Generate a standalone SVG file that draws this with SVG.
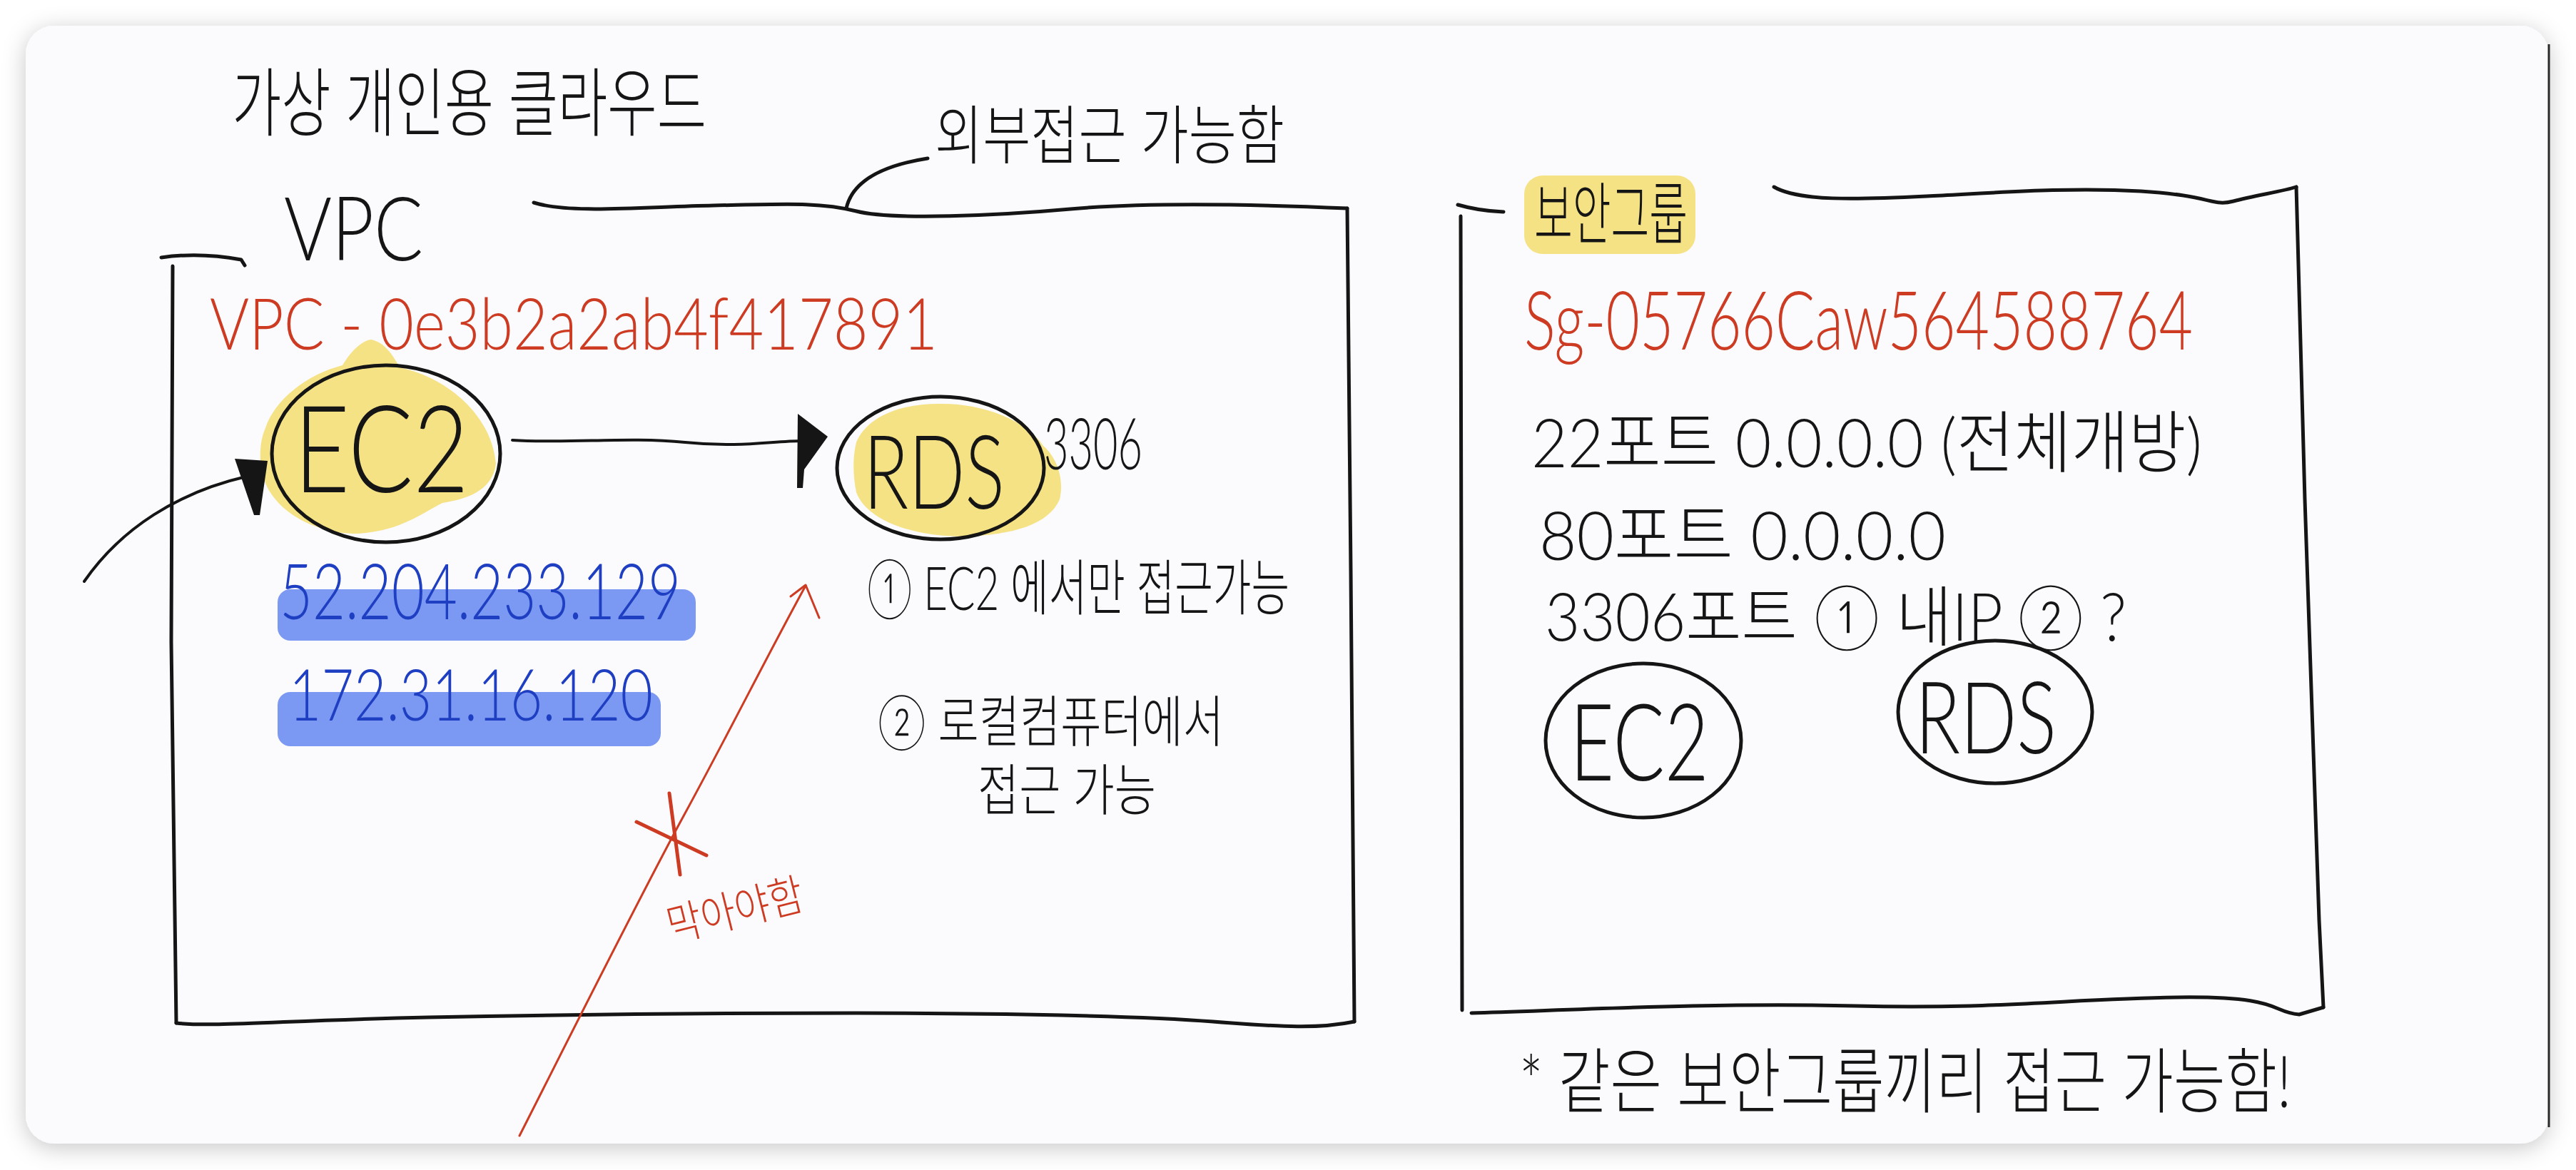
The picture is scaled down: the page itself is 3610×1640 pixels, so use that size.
<svg xmlns="http://www.w3.org/2000/svg" width="3610" height="1640" viewBox="0 0 3610 1640">
<defs>
<filter id="shadow" x="-5%" y="-5%" width="110%" height="110%">
<feDropShadow dx="0" dy="6" stdDeviation="16" flood-color="#000" flood-opacity="0.22"/>
</filter>
<style>
.hand{font-family:"Lato","Liberation Sans","Noto Sans CJK KR",sans-serif;font-weight:300;}
.blk{fill:#151515;}
.red{fill:#cc3b22;}
.blue{fill:#1f3fc2;}
.ln{fill:none;stroke:#151515;stroke-width:5;stroke-linecap:round;stroke-linejoin:round;}
.rln{fill:none;stroke:#cc3b22;stroke-width:3;stroke-linecap:round;stroke-linejoin:round;}
.yel{fill:#f4e07a;opacity:0.92;}
.bhl{fill:#7b98f2;}
</style>
</defs>
<rect x="0" y="0" width="3610" height="1640" fill="#ffffff"/>
<rect x="36" y="36" width="3536" height="1567" rx="40" fill="#fbfafd" filter="url(#shadow)"/>
<line x1="3572" y1="62" x2="3572" y2="1580" stroke="#2a2a2a" stroke-width="3"/>

<g id="title">
<text class="hand blk" x="325" y="182" font-size="105" textLength="665" lengthAdjust="spacingAndGlyphs">가상 개인용 클라우드</text>
</g>
<g id="external-note">
<text class="hand blk" x="1310" y="222" font-size="90" textLength="490" lengthAdjust="spacingAndGlyphs">외부접근 가능함</text>
</g>

<g id="vpc">
<path class="ln" d="M226,361 C 260,356 300,357 338,364 L 343,372"/>
<path class="ln" d="M242,373 L 240,900 L 247,1434"/>
<path class="ln" d="M748,284 C 800,300 900,290 1000,288 S 1150,283 1200,296 S 1400,302 1500,293 S 1750,286 1888,292"/>
<path class="ln" d="M1888,292 L 1893,800 L 1898,1432"/>
<path class="ln" d="M247,1434 C 300,1440 400,1430 600,1426 S 1000,1420 1200,1420 S 1600,1424 1700,1432 S 1850,1442 1898,1432"/>
<text class="hand blk" x="398" y="365" font-size="125" textLength="195" lengthAdjust="spacingAndGlyphs">VPC</text>
<text class="hand red" x="294" y="490" font-size="100" textLength="1020" lengthAdjust="spacingAndGlyphs">VPC - 0e3b2a2ab4f417891</text>
</g>

<g id="ec2">
<path class="yel" d="M372,600 C 385,560 430,525 480,512 C 490,495 505,478 520,476 C 540,480 552,500 560,515 C 630,530 690,585 695,650 C 690,690 650,700 620,705 C 590,720 560,745 500,748 C 440,748 380,715 368,665 C 362,640 365,615 372,600 Z"/>
<ellipse class="ln" cx="541" cy="636" rx="160" ry="124"/>
<text class="hand blk" x="412" y="690" font-size="170" textLength="245" lengthAdjust="spacingAndGlyphs">EC2</text>
</g>

<g id="rds">
<path class="yel" d="M1200,620 C 1215,585 1260,565 1320,566 C 1380,566 1440,590 1462,625 C 1480,640 1492,670 1485,700 C 1470,735 1420,750 1350,752 C 1280,752 1215,730 1200,690 C 1195,665 1195,640 1200,620 Z"/>
<ellipse class="ln" cx="1318" cy="656" rx="145" ry="100"/>
<text class="hand blk" x="1210" y="713" font-size="145" textLength="198" lengthAdjust="spacingAndGlyphs">RDS</text>
<text class="hand blk" x="1463" y="658" font-size="100" textLength="138" lengthAdjust="spacingAndGlyphs">3306</text>
</g>

<g id="ips">
<rect class="bhl" x="389" y="826" width="586" height="72" rx="18"/>
<rect class="bhl" x="389" y="970" width="537" height="76" rx="18"/>
<text class="hand blue" x="392" y="868" font-size="108" textLength="562" lengthAdjust="spacingAndGlyphs">52.204.233.129</text>
<text class="hand blue" x="405" y="1010" font-size="100" textLength="510" lengthAdjust="spacingAndGlyphs">172.31.16.120</text>
</g>

<g id="rds-notes">
<text class="hand blk" x="1215" y="855" font-size="85" textLength="592" lengthAdjust="spacingAndGlyphs">① EC2 에서만 접근가능</text>
<text class="hand blk" x="1230" y="1040" font-size="78" textLength="485" lengthAdjust="spacingAndGlyphs">② 로컬컴퓨터에서</text>
<text class="hand blk" x="1370" y="1136" font-size="78" textLength="250" lengthAdjust="spacingAndGlyphs">접근 가능</text>
</g>

<g id="block-note">
<path class="rln" d="M892,1152 L 990,1199 M 938,1112 L 953,1226" style="stroke-width:5"/>
<text class="hand red" x="930" y="1298" font-size="62" textLength="195" lengthAdjust="spacingAndGlyphs" transform="rotate(-14 1028 1265)">막아야함</text>
</g>

<g id="security-group">
<rect class="yel" x="2136" y="246" width="240" height="110" rx="26"/>
<text class="hand blk" x="2150" y="335" font-size="95" textLength="215" lengthAdjust="spacingAndGlyphs">보안그룹</text>
<path class="ln" d="M2043,287 C 2060,292 2080,296 2107,297"/>
<path class="ln" d="M2047,303 L 2049,1416"/>
<path class="ln" d="M2486,262 C 2520,282 2600,280 2700,275 S 2900,262 3000,268 S 3100,290 3130,282 S 3200,268 3218,262"/>
<path class="ln" d="M3218,262 L 3230,700 L 3250,1290 L 3256,1412"/>
<path class="ln" d="M2062,1420 C 2200,1416 2400,1405 2600,1410 S 2900,1400 3050,1398 S 3180,1418 3222,1422 L 3256,1412"/>
<text class="hand red" x="2136" y="490" font-size="115" textLength="937" lengthAdjust="spacingAndGlyphs">Sg-05766Caw564588764</text>
<text class="hand blk" x="2146" y="655" font-size="95" textLength="940" lengthAdjust="spacingAndGlyphs">22포트 0.0.0.0 (전체개방)</text>
<text class="hand blk" x="2157" y="785" font-size="95" textLength="570" lengthAdjust="spacingAndGlyphs">80포트 0.0.0.0</text>
<text class="hand blk" x="2165" y="898" font-size="92" textLength="815" lengthAdjust="spacingAndGlyphs">3306포트 ① 내IP ② ?</text>
</g>

<g id="sg-ec2">
<ellipse class="ln" cx="2303" cy="1038" rx="137" ry="108"/>
<text class="hand blk" x="2200" y="1094" font-size="150" textLength="195" lengthAdjust="spacingAndGlyphs">EC2</text>
</g>
<g id="sg-rds">
<ellipse class="ln" cx="2796" cy="998" rx="136" ry="100"/>
<text class="hand blk" x="2684" y="1056" font-size="140" textLength="198" lengthAdjust="spacingAndGlyphs">RDS</text>
</g>

<g id="footer-note">
<text class="hand blk" x="2129" y="1552" font-size="100" textLength="1082" lengthAdjust="spacingAndGlyphs">* 같은 보안그룹끼리 접근 가능함!</text>
</g>

<g id="connectors">
<path class="ln" d="M1186,292 Q 1198,238 1300,222"/>
<path class="ln" d="M118,815 C 170,740 250,690 345,668" style="stroke-width:4"/>
<path d="M329,643 L 375,646 L 364,722 L 356,722 Z" fill="#151515"/>
<path class="ln" d="M718,617 C 800,622 880,612 960,620 S 1080,618 1125,618" style="stroke-width:4"/>
<path d="M1118,580 L 1160,612 L 1127,658 L 1125,684 L 1117,684 Z" fill="#151515"/>
<path class="rln" d="M728,1592 C 800,1450 900,1250 960,1140 S 1080,910 1129,821"/>
<path class="rln" d="M1108,836 L 1129,820 L 1148,866"/>
</g>
</svg>
